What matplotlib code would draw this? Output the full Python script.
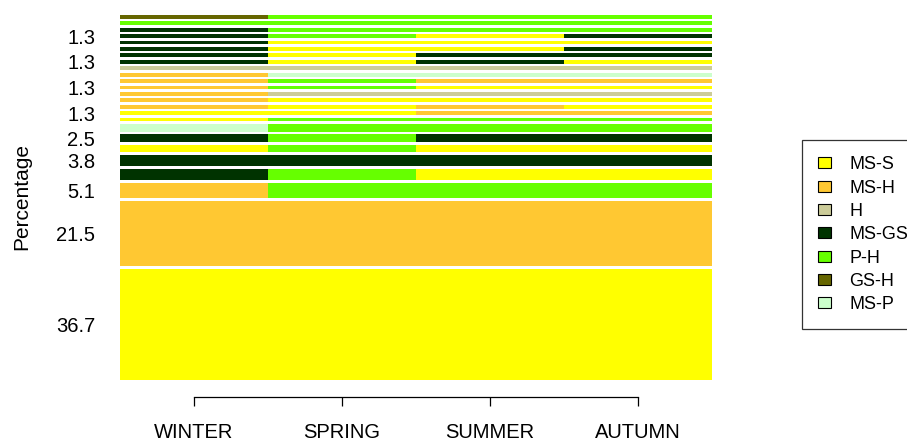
import matplotlib
matplotlib.use("Agg")
import matplotlib.pyplot as plt
from matplotlib.patches import Patch

plt.rcParams['font.family'] = ['Liberation Sans', 'DejaVu Sans']

# seasons (columns) and states
seasons = ['WINTER', 'SPRING', 'SUMMER', 'AUTUMN']
states = ['MS-S', 'MS-H', 'H', 'MS-GS', 'P-H', 'GS-H', 'MS-P']
state_colors = ['#FFFF00', '#FFC832', '#CCCC99', '#003300', '#66FF00', '#666600', '#CCFFCC']

# sequences, most frequent first (drawn bottom to top)
sequences = [
    ['MS-S', 'MS-S', 'MS-S', 'MS-S'],
    ['MS-H', 'MS-H', 'MS-H', 'MS-H'],
    ['MS-H', 'P-H', 'P-H', 'P-H'],
    ['MS-GS', 'P-H', 'MS-S', 'MS-S'],
    ['MS-GS', 'MS-GS', 'MS-GS', 'MS-GS'],
    ['MS-S', 'P-H', 'MS-S', 'MS-S'],
    ['MS-GS', 'P-H', 'MS-GS', 'MS-GS'],
    ['MS-P', 'P-H', 'P-H', 'P-H'],
    ['MS-S', 'P-H', 'P-H', 'P-H'],
    ['MS-S', 'MS-S', 'MS-H', 'MS-H'],
    ['MS-H', 'MS-S', 'MS-H', 'MS-S'],
    ['MS-H', 'MS-S', 'MS-S', 'MS-S'],
    ['MS-H', 'H', 'H', 'H'],
    ['MS-H', 'P-H', 'MS-S', 'MS-S'],
    ['MS-H', 'P-H', 'MS-H', 'MS-H'],
    ['MS-H', 'MS-P', 'MS-P', 'MS-P'],
    ['H', 'H', 'H', 'H'],
    ['MS-GS', 'MS-S', 'MS-GS', 'MS-S'],
    ['MS-GS', 'MS-S', 'MS-GS', 'MS-GS'],
    ['MS-GS', 'MS-S', 'MS-S', 'MS-GS'],
    ['MS-GS', 'MS-S', 'MS-S', 'MS-S'],
    ['MS-GS', 'P-H', 'MS-S', 'MS-GS'],
    ['MS-GS', 'P-H', 'P-H', 'P-H'],
    ['P-H', 'P-H', 'P-H', 'P-H'],
    ['GS-H', 'P-H', 'P-H', 'P-H'],
]
counts = [29, 17, 4, 3, 3, 2, 2, 2] + [1] * 17

total = sum(counts)
pct = [100 * c / total for c in counts]
cmap = dict(zip(states, state_colors))

fig = plt.figure(figsize=(9.07, 4.42), dpi=100)
ax = fig.add_axes([120 / 907, 1 - 380 / 442, 592 / 907, 365 / 442])

gap = 0.85
bottom = 0
centers = []
for seq, h in zip(sequences, pct):
    for j, s in enumerate(seq):
        ax.bar(j, h, width=1, bottom=bottom, align='edge', color=cmap[s], linewidth=0)
    centers.append(bottom + h / 2)
    bottom += h + gap
top = bottom - gap

# y labels, skipping those that would overlap (like R's axis)
yt, yl = [], []
last = None
for c, p in zip(centers, pct):
    if last is None or c - last > 7:
        yt.append(c)
        yl.append(f'{p:.1f}')
        last = c

ax.set_xlim(0, 4)
ax.set_ylim(0, top)
ax.set_yticks(yt)
ax.set_yticklabels(yl)
ax.tick_params(axis='y', length=0, pad=18, labelsize=14.5)

ax.set_xticks([0.5, 1.5, 2.5, 3.5])
ax.set_xticklabels(seasons)
ax.tick_params(axis='x', length=6.5, width=0.9, pad=12, labelsize=14.5)
for sp in ['left', 'top', 'right']:
    ax.spines[sp].set_visible(False)
ax.spines['bottom'].set_position(('outward', 12.2))
ax.spines['bottom'].set_bounds(0.5, 3.5)
ax.spines['bottom'].set_linewidth(0.9)

fig.text(22 / 907, 1 - 197 / 442, 'Percentage', rotation=90, ha='center', va='center', fontsize=15)

handles = [Patch(facecolor=c, edgecolor='black', linewidth=0.8) for c in state_colors]
leg = fig.legend(handles, states, loc='upper left', bbox_to_anchor=(802 / 907, 1 - 140 / 442),
                 fontsize=13, frameon=True, fancybox=False, edgecolor='black',
                 handlelength=0.72, handleheight=0.55, handletextpad=1.0,
                 labelspacing=0.35, borderpad=0.9, borderaxespad=0)
leg.get_frame().set_linewidth(0.9)

fig.savefig('out.png', dpi=100)
